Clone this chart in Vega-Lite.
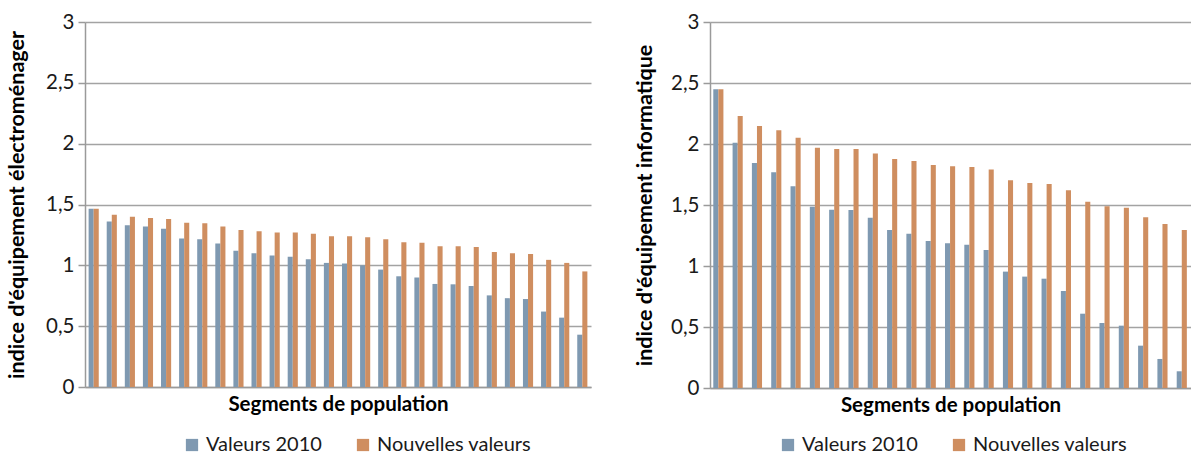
{
  "$schema": "https://vega.github.io/schema/vega-lite/v6.json",
  "background": "white",
  "padding": {"left": 6, "top": 12, "right": 0, "bottom": 0},
  "spacing": 43,
  "config": {
    "font": "Lato",
    "view": {"stroke": null},
    "axis": {
      "labelFont": "Lato",
      "titleFont": "Lato",
      "labelColor": "#1a1a1a",
      "titleColor": "#000000",
      "domainColor": "#9a9a9a",
      "domainWidth": 1.5,
      "tickColor": "#9a9a9a",
      "tickWidth": 1.5,
      "gridColor": "#a3a3a3",
      "gridWidth": 1.5
    },
    "legend": {"labelFont": "Lato"}
  },
  "datasets": {
    "elec": [
      {"s":1,"k":"Valeurs 2010","v":1.465},{"s":1,"k":"Nouvelles valeurs","v":1.465},
      {"s":2,"k":"Valeurs 2010","v":1.36},{"s":2,"k":"Nouvelles valeurs","v":1.415},
      {"s":3,"k":"Valeurs 2010","v":1.33},{"s":3,"k":"Nouvelles valeurs","v":1.40},
      {"s":4,"k":"Valeurs 2010","v":1.32},{"s":4,"k":"Nouvelles valeurs","v":1.39},
      {"s":5,"k":"Valeurs 2010","v":1.30},{"s":5,"k":"Nouvelles valeurs","v":1.38},
      {"s":6,"k":"Valeurs 2010","v":1.22},{"s":6,"k":"Nouvelles valeurs","v":1.35},
      {"s":7,"k":"Valeurs 2010","v":1.215},{"s":7,"k":"Nouvelles valeurs","v":1.345},
      {"s":8,"k":"Valeurs 2010","v":1.18},{"s":8,"k":"Nouvelles valeurs","v":1.32},
      {"s":9,"k":"Valeurs 2010","v":1.12},{"s":9,"k":"Nouvelles valeurs","v":1.29},
      {"s":10,"k":"Valeurs 2010","v":1.10},{"s":10,"k":"Nouvelles valeurs","v":1.28},
      {"s":11,"k":"Valeurs 2010","v":1.08},{"s":11,"k":"Nouvelles valeurs","v":1.27},
      {"s":12,"k":"Valeurs 2010","v":1.07},{"s":12,"k":"Nouvelles valeurs","v":1.27},
      {"s":13,"k":"Valeurs 2010","v":1.05},{"s":13,"k":"Nouvelles valeurs","v":1.26},
      {"s":14,"k":"Valeurs 2010","v":1.02},{"s":14,"k":"Nouvelles valeurs","v":1.24},
      {"s":15,"k":"Valeurs 2010","v":1.015},{"s":15,"k":"Nouvelles valeurs","v":1.24},
      {"s":16,"k":"Valeurs 2010","v":1.00},{"s":16,"k":"Nouvelles valeurs","v":1.23},
      {"s":17,"k":"Valeurs 2010","v":0.965},{"s":17,"k":"Nouvelles valeurs","v":1.215},
      {"s":18,"k":"Valeurs 2010","v":0.91},{"s":18,"k":"Nouvelles valeurs","v":1.19},
      {"s":19,"k":"Valeurs 2010","v":0.90},{"s":19,"k":"Nouvelles valeurs","v":1.185},
      {"s":20,"k":"Valeurs 2010","v":0.847},{"s":20,"k":"Nouvelles valeurs","v":1.157},
      {"s":21,"k":"Valeurs 2010","v":0.844},{"s":21,"k":"Nouvelles valeurs","v":1.157},
      {"s":22,"k":"Valeurs 2010","v":0.83},{"s":22,"k":"Nouvelles valeurs","v":1.15},
      {"s":23,"k":"Valeurs 2010","v":0.753},{"s":23,"k":"Nouvelles valeurs","v":1.11},
      {"s":24,"k":"Valeurs 2010","v":0.73},{"s":24,"k":"Nouvelles valeurs","v":1.10},
      {"s":25,"k":"Valeurs 2010","v":0.723},{"s":25,"k":"Nouvelles valeurs","v":1.094},
      {"s":26,"k":"Valeurs 2010","v":0.62},{"s":26,"k":"Nouvelles valeurs","v":1.045},
      {"s":27,"k":"Valeurs 2010","v":0.57},{"s":27,"k":"Nouvelles valeurs","v":1.02},
      {"s":28,"k":"Valeurs 2010","v":0.43},{"s":28,"k":"Nouvelles valeurs","v":0.95}
    ],
    "info": [
      {"s":1,"k":"Valeurs 2010","v":2.448},{"s":1,"k":"Nouvelles valeurs","v":2.448},
      {"s":2,"k":"Valeurs 2010","v":2.011},{"s":2,"k":"Nouvelles valeurs","v":2.23},
      {"s":3,"k":"Valeurs 2010","v":1.844},{"s":3,"k":"Nouvelles valeurs","v":2.148},
      {"s":4,"k":"Valeurs 2010","v":1.768},{"s":4,"k":"Nouvelles valeurs","v":2.112},
      {"s":5,"k":"Valeurs 2010","v":1.653},{"s":5,"k":"Nouvelles valeurs","v":2.052},
      {"s":6,"k":"Valeurs 2010","v":1.486},{"s":6,"k":"Nouvelles valeurs","v":1.97},
      {"s":7,"k":"Valeurs 2010","v":1.462},{"s":7,"k":"Nouvelles valeurs","v":1.959},
      {"s":8,"k":"Valeurs 2010","v":1.459},{"s":8,"k":"Nouvelles valeurs","v":1.959},
      {"s":9,"k":"Valeurs 2010","v":1.396},{"s":9,"k":"Nouvelles valeurs","v":1.923},
      {"s":10,"k":"Valeurs 2010","v":1.295},{"s":10,"k":"Nouvelles valeurs","v":1.877},
      {"s":11,"k":"Valeurs 2010","v":1.265},{"s":11,"k":"Nouvelles valeurs","v":1.861},
      {"s":12,"k":"Valeurs 2010","v":1.205},{"s":12,"k":"Nouvelles valeurs","v":1.828},
      {"s":13,"k":"Valeurs 2010","v":1.186},{"s":13,"k":"Nouvelles valeurs","v":1.817},
      {"s":14,"k":"Valeurs 2010","v":1.175},{"s":14,"k":"Nouvelles valeurs","v":1.811},
      {"s":15,"k":"Valeurs 2010","v":1.131},{"s":15,"k":"Nouvelles valeurs","v":1.79},
      {"s":16,"k":"Valeurs 2010","v":0.954},{"s":16,"k":"Nouvelles valeurs","v":1.702},
      {"s":17,"k":"Valeurs 2010","v":0.913},{"s":17,"k":"Nouvelles valeurs","v":1.68},
      {"s":18,"k":"Valeurs 2010","v":0.896},{"s":18,"k":"Nouvelles valeurs","v":1.672},
      {"s":19,"k":"Valeurs 2010","v":0.795},{"s":19,"k":"Nouvelles valeurs","v":1.62},
      {"s":20,"k":"Valeurs 2010","v":0.609},{"s":20,"k":"Nouvelles valeurs","v":1.527},
      {"s":21,"k":"Valeurs 2010","v":0.533},{"s":21,"k":"Nouvelles valeurs","v":1.489},
      {"s":22,"k":"Valeurs 2010","v":0.511},{"s":22,"k":"Nouvelles valeurs","v":1.478},
      {"s":23,"k":"Valeurs 2010","v":0.347},{"s":23,"k":"Nouvelles valeurs","v":1.399},
      {"s":24,"k":"Valeurs 2010","v":0.238},{"s":24,"k":"Nouvelles valeurs","v":1.344},
      {"s":25,"k":"Valeurs 2010","v":0.137},{"s":25,"k":"Nouvelles valeurs","v":1.295}
    ]
  },
  "resolve": {"legend": {"color": "independent"}},
  "hconcat": [
    {
      "width": 506,
      "height": 365,
      "data": {"name": "elec"},
      "mark": {"type": "bar"},
      "encoding": {
        "x": {
          "field": "s", "type": "ordinal", "sort": null,
          "scale": {"paddingInner": 0.44, "paddingOuter": 0.2},
          "axis": {"title": "Segments de population", "labels": false, "ticks": false, "grid": false,
                   "titleFontWeight": "bold", "titleFontSize": 20.5, "titlePadding": 7}
        },
        "xOffset": {"field": "k", "type": "nominal", "sort": ["Valeurs 2010", "Nouvelles valeurs"]},
        "y": {
          "field": "v", "type": "quantitative",
          "scale": {"domain": [0, 3]},
          "axis": {"title": "indice d'équipement électroménager", "values": [0, 0.5, 1, 1.5, 2, 2.5, 3],
                   "labelExpr": "replace(format(datum.value, '~g'), '.', ',')",
                   "labelFontSize": 20.5, "tickSize": 7, "labelPadding": 4,
                   "titleFontWeight": "bold", "titleFontSize": 21.5, "titlePadding": 17}
        },
        "color": {
          "field": "k", "type": "nominal",
          "scale": {"domain": ["Valeurs 2010", "Nouvelles valeurs"], "range": ["#7F99B1", "#CF8E60"]},
          "legend": {"orient": "none", "legendX": 97, "legendY": 413, "direction": "horizontal", "title": null,
                     "symbolType": "square", "symbolSize": 150, "symbolStrokeWidth": 0,
                     "labelFontSize": 20, "labelColor": "#1a1a1a", "labelOffset": 4, "columnPadding": 31}
        }
      }
    },
    {
      "width": 481,
      "height": 366,
      "data": {"name": "info"},
      "mark": {"type": "bar"},
      "encoding": {
        "x": {
          "field": "s", "type": "ordinal", "sort": null,
          "scale": {"paddingInner": 0.43, "paddingOuter": 0.17},
          "axis": {"title": "Segments de population", "labels": false, "ticks": false, "grid": false,
                   "titleFontWeight": "bold", "titleFontSize": 20.5, "titlePadding": 7}
        },
        "xOffset": {"field": "k", "type": "nominal", "sort": ["Valeurs 2010", "Nouvelles valeurs"]},
        "y": {
          "field": "v", "type": "quantitative",
          "scale": {"domain": [0, 3]},
          "axis": {"title": "indice d'équipement informatique", "values": [0, 0.5, 1, 1.5, 2, 2.5, 3],
                   "labelExpr": "replace(format(datum.value, '~g'), '.', ',')",
                   "labelFontSize": 20.5, "tickSize": 7, "labelPadding": 4,
                   "titleFontWeight": "bold", "titleFontSize": 21.5, "titlePadding": 14}
        },
        "color": {
          "field": "k", "type": "nominal",
          "scale": {"domain": ["Valeurs 2010", "Nouvelles valeurs"], "range": ["#7F99B1", "#CF8E60"]},
          "legend": {"orient": "none", "legendX": 68, "legendY": 413, "direction": "horizontal", "title": null,
                     "symbolType": "square", "symbolSize": 150, "symbolStrokeWidth": 0,
                     "labelFontSize": 20, "labelColor": "#1a1a1a", "labelOffset": 4, "columnPadding": 31}
        }
      }
    }
  ]
}
